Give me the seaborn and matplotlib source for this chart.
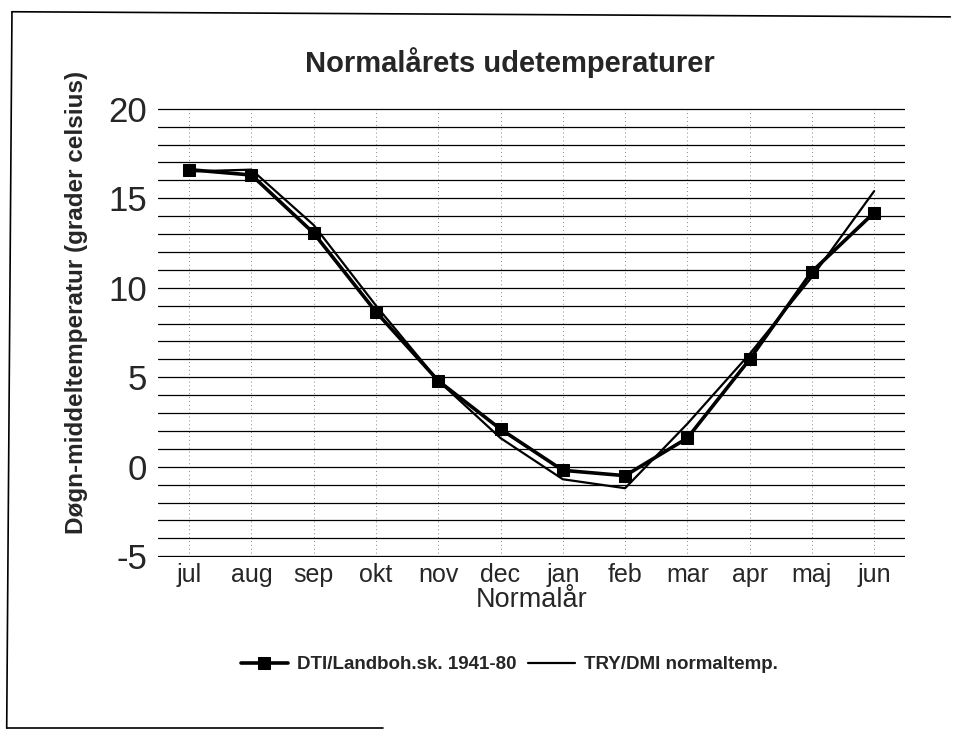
import matplotlib.pyplot as plt
import numpy as np
import pandas as pd
import seaborn as sns
from matplotlib.lines import Line2D

sns.set_style("white")
plt.rcParams['font.family'] = ['Liberation Sans', 'DejaVu Sans']
plt.rcParams['axes.unicode_minus'] = False

months = ['jul', 'aug', 'sep', 'okt', 'nov', 'dec', 'jan', 'feb', 'mar', 'apr', 'maj', 'jun']
dti = [16.6, 16.3, 13.05, 8.65, 4.8, 2.1, -0.2, -0.5, 1.6, 6.0, 10.9, 14.2]
try_dmi = [16.5, 16.6, 13.5, 9.0, 4.8, 1.6, -0.7, -1.2, 2.4, 6.3, 10.6, 15.4]

df = pd.DataFrame({'pos': np.arange(len(months)), 'dti': dti, 'try': try_dmi})

fig = plt.figure(figsize=(9.58, 7.34), dpi=100)
ax = fig.add_axes([0.165, 0.241, 0.78, 0.612])

sns.lineplot(data=df, x='pos', y='try', ax=ax, color='black', linewidth=1.6,
             label='TRY/DMI normaltemp.')
sns.lineplot(data=df, x='pos', y='dti', ax=ax, color='black', linewidth=2.6,
             marker='s', markersize=9, markeredgecolor='black',
             label='DTI/Landboh.sk. 1941-80')

ax.set_xlim(-0.5, len(months) - 0.5)
ax.set_ylim(-5.05, 20.05)
ax.set_yticks([-5, 0, 5, 10, 15, 20])
ax.set_yticks(np.arange(-5, 21, 1), minor=True)
ax.set_xticks(df['pos'])
ax.set_xticklabels(months, fontsize=18)
ax.tick_params(axis='y', labelsize=25, length=0, pad=8)
ax.tick_params(axis='x', length=0, pad=4)

# gitterlinjer
ax.grid(which='both', axis='y', color='black', linewidth=0.9)
ax.grid(which='major', axis='x', color='#888888', linewidth=0.7, linestyle=(0, (1, 3)))
ax.set_axisbelow(True)
for s in ax.spines.values():
    s.set_visible(False)

ax.set_title('Normalårets udetemperaturer', fontsize=21, fontweight='bold', pad=26, x=0.471)
ax.set_xlabel('Normalår', fontsize=19.5, labelpad=0)
ax.set_ylabel('Døgn-middeltemperatur (grader celsius)', fontsize=17.5, fontweight='bold')
ax.yaxis.set_label_coords(-0.094, 0.568)

h, l = ax.get_legend_handles_labels()
leg = ax.legend(h[::-1], l[::-1], loc='upper center', bbox_to_anchor=(0.47, -0.183),
                ncol=2, frameon=False, prop={'size': 13.5, 'weight': 'bold'},
                handlelength=2.5, columnspacing=0.6, handletextpad=0.5)

# ramme
fig.add_artist(Line2D([0.0125, 0.992], [0.984, 0.977], color='black', linewidth=1.2))
fig.add_artist(Line2D([0.0125, 0.007], [0.984, 0.008], color='black', linewidth=1.2))
fig.add_artist(Line2D([0.007, 0.40], [0.008, 0.008], color='black', linewidth=1.2))

fig.savefig('out.png', dpi=100)
